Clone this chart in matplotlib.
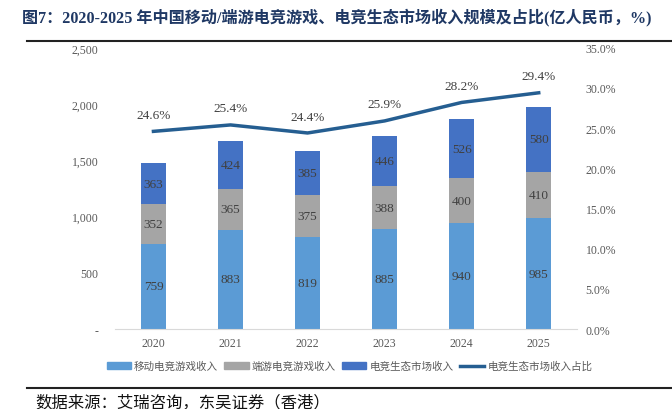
import numpy as np
import matplotlib.pyplot as plt
from matplotlib.lines import Line2D
from matplotlib.patches import Patch

plt.rcParams['font.family'] = ['Liberation Serif', 'Noto Sans CJK SC']

years = ['2020', '2021', '2022', '2023', '2024', '2025']
mobile = [759, 883, 819, 885, 940, 985]
client = [352, 365, 375, 388, 400, 410]
ecosys = [363, 424, 385, 446, 526, 580]
share = [24.6, 25.4, 24.4, 25.9, 28.2, 29.4]
names = ['移动电竞游戏收入', '端游电竞游戏收入', '电竞生态市场收入', '电竞生态市场收入占比']

c_mobile = '#5B9BD5'
c_client = '#A5A5A5'
c_eco = '#4472C4'
c_line = '#255E91'
txt = '#404040'

fig = plt.figure(figsize=(6.72, 4.10), dpi=100)
ax = fig.add_axes([0.171, 0.195, 0.688, 0.686])
x = np.arange(len(years))
w = 0.32

mobile = np.array(mobile)
client = np.array(client)
ecosys = np.array(ecosys)
ax.bar(x, mobile, w, color=c_mobile, zorder=2)
ax.bar(x, client, w, bottom=mobile, color=c_client, zorder=2)
ax.bar(x, ecosys, w, bottom=mobile + client, color=c_eco, zorder=2)

for i in range(len(x)):
    ax.text(x[i], mobile[i] / 2, str(mobile[i]), ha='center', va='center', fontsize=9.5, color=txt)
    ax.text(x[i], mobile[i] + client[i] / 2, str(client[i]), ha='center', va='center', fontsize=9.5, color=txt)
    ax.text(x[i], mobile[i] + client[i] + ecosys[i] / 2, str(ecosys[i]), ha='center', va='center', fontsize=9.5, color=txt)

ax.set_xlim(-0.5, 5.5)
ax.set_ylim(0, 2500)
ax.set_yticks([0, 500, 1000, 1500, 2000, 2500])
ax.set_yticklabels(['-', '500', '1,000', '1,500', '2,000', '2,500'])
ax.set_xticks(x)
ax.set_xticklabels(years)
ax.tick_params(axis='both', length=0, labelsize=8.5, labelcolor='#595959')
ax.tick_params(axis='y', pad=12)
ax.tick_params(axis='x', pad=6)
for s in ['top', 'right', 'left']:
    ax.spines[s].set_visible(False)
ax.spines['bottom'].set_color('#D9D9D9')

ax2 = ax.twinx()
ax2.plot(x, share, color=c_line, lw=2.5, zorder=3)
for i in range(len(x)):
    ax2.text(x[i], share[i] + 1.3, '%.1f%%' % share[i], ha='center', va='bottom', fontsize=9.5, color=txt)
ax2.set_ylim(0, 35)
ax2.set_yticks(np.arange(0, 36, 5))
ax2.set_yticklabels(['%.1f%%' % v for v in np.arange(0, 36, 5)])
ax2.tick_params(axis='y', length=0, labelsize=8.5, labelcolor='#595959', pad=6)
for s in ['top', 'right', 'left', 'bottom']:
    ax2.spines[s].set_visible(False)

handles = [Patch(color=c_mobile), Patch(color=c_client), Patch(color=c_eco),
           Line2D([0], [0], color=c_line, lw=2.5)]
fig.legend(handles, names, loc='center', bbox_to_anchor=(0.52, 1 - 367 / 410), ncol=4,
           frameon=False, fontsize=7.6, handlelength=2.3, handleheight=0.6,
           columnspacing=0.6, handletextpad=0.3, labelcolor='#595959')

fig.text(22 / 672, 1 - 17 / 410, '图7：2020-2025 年中国移动/端游电竞游戏、电竞生态市场收入规模及占比(亿人民币，%)',
         fontsize=11.6, fontweight='bold', color='#1F3864', va='center', ha='left')
fig.add_artist(Line2D([27 / 672, 1], [1 - 42 / 410, 1 - 42 / 410], color='#222222', lw=1.5))
fig.add_artist(Line2D([27 / 672, 1], [1 - 389 / 410, 1 - 389 / 410], color='#222222', lw=1.5))
fig.text(35 / 672, 1 - 403 / 410, '数据来源：艾瑞咨询，东吴证券（香港）', fontsize=11.8, color='#111111',
         va='center', ha='left')

fig.savefig('out.png', dpi=100)
